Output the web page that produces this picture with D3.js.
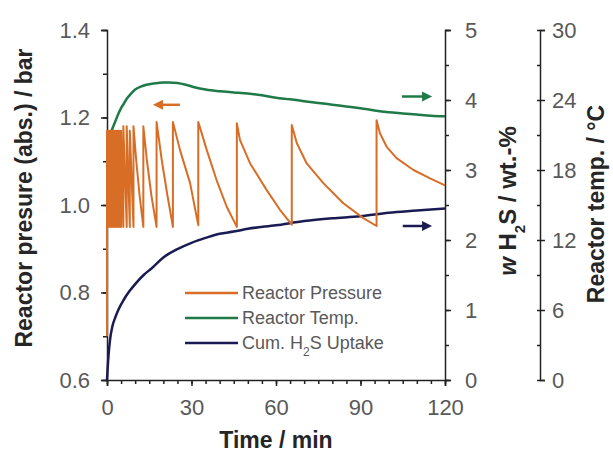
<!DOCTYPE html>
<html>
<head>
<meta charset="utf-8">
<script src="https://cdn.jsdelivr.net/npm/d3@7"></script>
<style>
  body { margin: 0; background: #fff; }
  svg { font-family: "Liberation Sans", Arial, sans-serif; }
  .tick text { fill: #595959; font-size: 22px; }
  .axis path, .axis line { stroke: #222; stroke-width: 1.5; }
  .axisTitle { font-weight: bold; font-size: 23px; fill: #262626; }
  .legendText { font-size: 18px; fill: #595959; }
</style>
</head>
<body>
<div id="chart"></div>
<script>
// time axis (min)
var timeTicks = [0, 30, 60, 90, 120];
var pressureTicks = [0.6, 0.8, 1.0, 1.2, 1.4];
var uptakeTicks = [0, 1, 2, 3, 4, 5];
var tempTicks = [0, 6, 12, 18, 24, 30];

// reactor pressure (bar) - sawtooth, pairs of [time, pressure]
var pressureTime = [0, 0, 0.35, 0.35, 0.7, 0.7, 1.05, 1.05, 1.4, 1.4, 1.75, 1.75, 2.1, 2.1, 2.45, 2.45,
  2.8, 2.8, 3.2, 3.2, 3.6, 3.6, 4.0, 4.0, 4.5, 4.5, 5.0, 5.0, 5.8, 5.8, 7.0, 7.0, 8.1, 8.1, 9.4, 9.4,
  10.4, 11.6, 12.9, 12.9, 14.2, 15.8, 17.6, 17.6, 19.5, 21.5, 23.4, 23.4, 25.9, 29.5, 32.4, 32.4,
  35.4, 38.9, 42.5, 46.1, 46.1, 47.2, 50.8, 56.7, 61.4, 65.6, 65.6, 67.4, 70.9, 76.8, 83.9, 91.0,
  95.7, 95.7, 96.9, 99.3, 102.8, 108.8, 114.7, 120];
var pressureVal = [0.70, 1.17, 0.95, 1.17, 0.95, 1.17, 0.95, 1.17, 0.95, 1.17, 0.95, 1.17, 0.95, 1.17, 0.95, 1.17,
  0.95, 1.17, 0.95, 1.17, 0.95, 1.17, 0.95, 1.17, 0.95, 1.17, 0.95, 1.17, 0.95, 1.18, 0.95, 1.18, 0.95, 1.17, 0.95, 1.18,
  1.10, 1.02, 0.95, 1.18, 1.10, 1.02, 0.95, 1.19, 1.10, 1.02, 0.95, 1.19, 1.126, 1.05, 0.954, 1.19,
  1.126, 1.057, 0.996, 0.95, 1.187, 1.149, 1.095, 1.034, 0.989, 0.955, 1.183, 1.141, 1.095, 1.05, 1.004, 0.970,
  0.952, 1.194, 1.164, 1.133, 1.107, 1.08, 1.061, 1.045];

// reactor temperature (°C)
var tempTime = [0, 0.5, 1, 2, 3, 4, 5, 6, 7, 8, 10, 12, 14, 16, 18, 20, 22, 25, 28, 31, 35, 40, 45, 50,
  55, 60, 65, 70, 75, 80, 85, 90, 95, 100, 105, 110, 115, 120];
var tempVal = [20.2, 20.6, 21.0, 21.6, 22.2, 22.8, 23.3, 23.7, 24.1, 24.4, 24.9, 25.15, 25.3, 25.4, 25.45, 25.5, 25.5,
  25.45, 25.3, 25.1, 24.9, 24.75, 24.65, 24.55, 24.4, 24.2, 24.06, 23.9, 23.75, 23.6, 23.45, 23.3, 23.1,
  22.95, 22.85, 22.75, 22.65, 22.6];

// cumulative H2S uptake (wt.-%)
var uptakeTime = [0, 0.5, 1, 2, 3, 4, 6, 8, 10, 13, 16, 20, 25, 30, 35, 40, 45, 50, 60, 70, 80, 90, 100, 110, 120];
var uptakeVal = [0, 0.33, 0.55, 0.78, 0.9, 1.0, 1.15, 1.27, 1.37, 1.5, 1.6, 1.75, 1.87, 1.96, 2.03, 2.09, 2.12,
  2.16, 2.21, 2.27, 2.31, 2.34, 2.39, 2.42, 2.45];

var colors = { pressure: "#D86E26", temp: "#1E7A46", uptake: "#1A1B52" };

var svgWidth = 613;
var svgHeight = 454;

var svg = d3.select("#chart").append("svg").attr("width", svgWidth).attr("height", svgHeight);

// scales
var xScale = d3.scaleLinear().domain([0, 120]).range([107, 445]);
var yPressure = d3.scaleLinear().domain([0.6, 1.4]).range([380, 30]);
var yUptake = d3.scaleLinear().domain([0, 5]).range([380, 30]);
var yTemp = d3.scaleLinear().domain([0, 30]).range([380, 30]);

// minor ticks
function minor(g, axisGen) {
  g.call(axisGen.tickFormat(""));
  g.select(".domain").remove();
}
svg.append("g").attr("class", "axis").attr("transform", "translate(0,380)")
  .call(minor, d3.axisBottom(xScale).tickValues(d3.range(0, 121, 5)).tickSize(4));
svg.append("g").attr("class", "axis").attr("transform", "translate(107,0)")
  .call(minor, d3.axisLeft(yPressure).tickValues(d3.range(6, 15).map(d => d / 10)).tickSize(4));
svg.append("g").attr("class", "axis").attr("transform", "translate(445,0)")
  .call(minor, d3.axisRight(yUptake).tickValues(d3.range(0, 11).map(d => d / 2)).tickSize(4));
svg.append("g").attr("class", "axis").attr("transform", "translate(540,0)")
  .call(minor, d3.axisLeft(yTemp).tickValues(d3.range(0, 31, 3)).tickSize(3));

// main axes
var bottomAxis = d3.axisBottom(xScale).tickValues(timeTicks).tickSize(6).tickPadding(13);
var leftAxis = d3.axisLeft(yPressure).tickValues(pressureTicks).tickFormat(d3.format(".1f")).tickSize(6).tickPadding(11);
var rightAxis = d3.axisRight(yUptake).tickValues(uptakeTicks).tickFormat(d3.format("d")).tickSize(6).tickPadding(14);
var tempAxis = d3.axisRight(yTemp).tickValues(tempTicks).tickFormat(d3.format("d")).tickSize(5).tickPadding(7);

svg.append("g").attr("class", "axis").attr("transform", "translate(0,380)").call(bottomAxis);
svg.append("g").attr("class", "axis").attr("transform", "translate(107,0)").call(leftAxis);
svg.append("g").attr("class", "axis").attr("transform", "translate(445,0)").call(rightAxis);
svg.append("g").attr("class", "axis").attr("transform", "translate(540,0)").call(tempAxis);
svg.selectAll(".domain").attr("fill", "none");

// lines
var pressureData = pressureTime.map((t, i) => [t, pressureVal[i]]);
var tempData = tempTime.map((t, i) => [t, tempVal[i]]);
var uptakeData = uptakeTime.map((t, i) => [t, uptakeVal[i]]);

svg.append("path").datum(uptakeData)
  .attr("fill", "none").attr("stroke", colors.uptake).attr("stroke-width", 2.5)
  .attr("d", d3.line().x(d => xScale(d[0])).y(d => yUptake(d[1])).curve(d3.curveMonotoneX));
svg.append("path").datum(tempData)
  .attr("fill", "none").attr("stroke", colors.temp).attr("stroke-width", 2.5)
  .attr("d", d3.line().x(d => xScale(d[0])).y(d => yTemp(d[1])).curve(d3.curveMonotoneX));
svg.append("path").datum(pressureData)
  .attr("fill", "none").attr("stroke", colors.pressure).attr("stroke-width", 2)
  .attr("stroke-linejoin", "round")
  .attr("d", d3.line().x(d => xScale(d[0])).y(d => yPressure(d[1])));

// arrows telling which axis each curve belongs to
var arrows = [
  { from: 25.9, to: 16.3, y: yPressure(1.229), color: colors.pressure },
  { from: 104.7, to: 115.4, y: yTemp(24.3), color: colors.temp },
  { from: 105, to: 115.4, y: yUptake(2.2), color: colors.uptake }
];
arrows.forEach(function(a) {
  var x1 = xScale(a.from), x2 = xScale(a.to);
  var dir = x2 > x1 ? 1 : -1;
  svg.append("line").attr("x1", x1).attr("x2", x2 - dir * 6).attr("y1", a.y).attr("y2", a.y)
    .attr("stroke", a.color).attr("stroke-width", 2.5);
  svg.append("path")
    .attr("d", `M${x2},${a.y} L${x2 - dir * 10},${a.y - 5} L${x2 - dir * 10},${a.y + 5} Z`)
    .attr("fill", a.color);
});

// legend
var legendItems = [
  { label: ["Reactor Pressure"], color: colors.pressure },
  { label: ["Reactor Temp."], color: colors.temp },
  { label: ["Cum. H", "2", "S Uptake"], color: colors.uptake }
];
legendItems.forEach(function(item, i) {
  var y = 293 + i * 25;
  svg.append("line").attr("x1", 185).attr("x2", 238).attr("y1", y).attr("y2", y)
    .attr("stroke", item.color).attr("stroke-width", 2.5);
  var t = svg.append("text").attr("class", "legendText").attr("x", 242).attr("y", y + 6);
  t.append("tspan").text(item.label[0]);
  if (item.label.length > 1) {
    t.append("tspan").attr("baseline-shift", "sub").attr("font-size", "12px").text(item.label[1]);
    t.append("tspan").text(item.label[2]);
  }
});

// axis titles
svg.append("text").attr("class", "axisTitle")
  .attr("transform", "translate(32,198) rotate(-90)")
  .attr("text-anchor", "middle")
  .text("Reactor presure (abs.) / bar");

var wTitle = svg.append("text").attr("class", "axisTitle")
  .attr("transform", "translate(516,201) rotate(-90)")
  .attr("text-anchor", "middle")
  .style("font-size", "24px");
wTitle.append("tspan").attr("font-style", "italic").text("w");
wTitle.append("tspan").text(" H");
wTitle.append("tspan").attr("baseline-shift", "sub").attr("font-size", "15px").text("2");
wTitle.append("tspan").text("S / wt.-%");

svg.append("text").attr("class", "axisTitle")
  .attr("transform", "translate(604,204) rotate(-90)")
  .attr("text-anchor", "middle")
  .text("Reactor temp. / °C");

svg.append("text").attr("class", "axisTitle")
  .attr("x", 276).attr("y", 448)
  .attr("text-anchor", "middle")
  .text("Time / min");
</script>
</body>
</html>
